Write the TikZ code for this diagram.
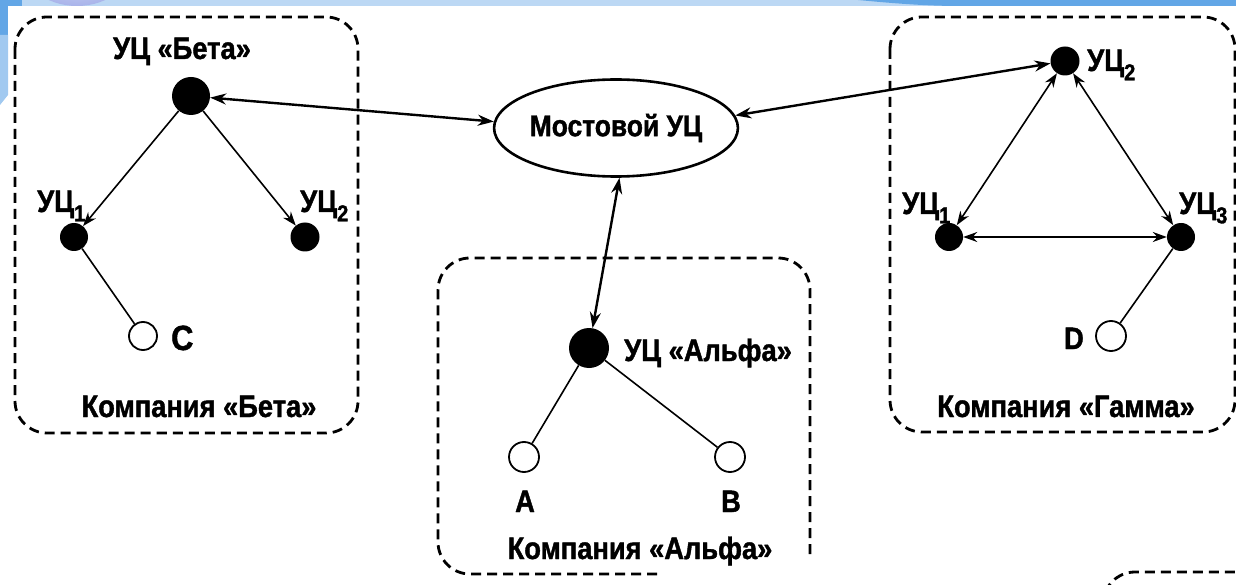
\documentclass[tikz,border=0pt]{standalone}
\usepackage{fontspec}
\newfontfamily\cndfont{Liberation Sans}[FakeStretch=0.88,FakeBold=1.3]
\usetikzlibrary{arrows.meta,shapes.geometric}
\definecolor{bandlight}{HTML}{BCD8F4}
\definecolor{banddark}{HTML}{62A6E6}
\definecolor{balllav}{HTML}{A9B4EA}
\newcommand{\lowsub}[1]{\raisebox{-0.3em}{\fontsize{23}{23}\selectfont#1}}

\begin{document}
\begin{tikzpicture}[x=1pt,y=-1pt,
  lbl/.style={font=\cndfont\bfseries\fontsize{31}{32}\selectfont, inner sep=0pt},
  ca/.style={circle, fill=black, inner sep=0pt, minimum size=#1},
  leaf/.style={circle, draw=black, line width=1.8pt, fill=white, inner sep=0pt, minimum size=28pt},
  hub/.style={ellipse, draw=black, line width=2.6pt, inner sep=0pt,
              minimum width=242pt, minimum height=97pt,
              font=\cndfont\bfseries\fontsize{30}{31}\selectfont},
  company/.style={draw=black, line width=2.8pt, dash pattern=on 10pt off 6pt, rounded corners=32pt},
  link/.style={line width=1.6pt, >={Stealth[length=14pt,width=10pt]}},
  bridgelink/.style={line width=2.4pt, >={Stealth[length=16pt,width=11pt]}},
  plain/.style={line width=1.6pt}
]
% page
\fill[white] (0,0) rectangle (1236,585);
\useasboundingbox (0,0) rectangle (1236,585);

% blue slide ornament along the top and left edges
\fill[bandlight] (0,0) rectangle (1236,6);
\fill[banddark] (858,0) .. controls (900,4) and (930,6) .. (960,6) -- (1236,6) -- (1236,0) -- cycle;
\fill[banddark] (0,0) rectangle (22,6);
\fill[banddark] (0,0) rectangle (8,35);
\fill[bandlight!70!banddark] (0,35) -- (8,35) -- (8,95) -- (0,105) -- cycle;
\begin{scope}
  \clip (0,0) rectangle (1236,6);
  \shade[inner color=white!70!balllav, outer color=balllav] (77,-40) ellipse [x radius=57, y radius=46];
\end{scope}

% company frames
\draw[company] (15,17) rectangle (358,433);
\draw[company] (657,574) -| (438,258) -| (810,556);
\draw[company] (890,17) rectangle (1235,432);
\draw[company] (1103,600) |- (1260,572);

% bridge CA
\node[hub] (bridge) at (616,128) {Мостовой УЦ};

% company Beta
\node[ca=38pt] (beta) at (191,96) {};
\node[lbl, anchor=base] (betaL) at (182,59) {УЦ «Бета»};
\node[ca=28pt] (b1) at (74,237) {};
\node[lbl, anchor=base west] (b1L) at (37,212) {УЦ\lowsub{1}};
\node[ca=29pt] (b2) at (305,237) {};
\node[lbl, anchor=base west] (b2L) at (300,212) {УЦ\lowsub{2}};
\node[leaf] (c) at (143,336) {};
\node[lbl, anchor=base west, font=\cndfont\bfseries\fontsize{35}{36}\selectfont] (cL) at (171,350) {C};
\node[lbl, anchor=base] (betaCo) at (199,417) {Компания «Бета»};

% company Alpha
\node[ca=40pt] (alpha) at (589,348) {};
\node[lbl, anchor=base west] (alphaL) at (624,361) {УЦ «Альфа»};
\node[leaf, minimum size=30pt] (a) at (524,457) {};
\node[leaf, minimum size=30pt] (b) at (730,457) {};
\node[lbl, anchor=base] (aL) at (525,512) {A};
\node[lbl, anchor=base] (bL) at (731,512) {B};
\node[lbl, anchor=base] (alphaCo) at (640,559) {Компания «Альфа»};

% company Gamma
\node[ca=29pt] (g2) at (1065,61) {};
\node[lbl, anchor=base west] (g2L) at (1087,71) {УЦ\lowsub{2}};
\node[ca=28pt] (g1) at (949,237) {};
\node[lbl, anchor=base west] (g1L) at (902,214) {УЦ\lowsub{1}};
\node[ca=28pt] (g3) at (1181,237) {};
\node[lbl, anchor=base west] (g3L) at (1179,214) {УЦ\lowsub{3}};
\node[leaf, minimum size=30pt] (d) at (1111,336) {};
\node[lbl, anchor=base east] (dL) at (1084,349) {D};
\node[lbl, anchor=base] (gammaCo) at (1066,417) {Компания «Гамма»};

% cross-certification with the bridge
\draw[bridgelink,<->] (beta) -- (bridge.177);
\draw[bridgelink,<->] (bridge.6) -- (g2);
\draw[bridgelink,<->] (bridge.-86) -- (alpha);

% hierarchy of Beta
\draw[link,->] (beta) -- (b1);
\draw[link,->] (beta) -- (b2);
\draw[plain] (b1) -- (c);

% hierarchy of Alpha
\draw[plain] (alpha) -- (a);
\draw[plain] (alpha) -- (b);

% mesh of Gamma
\draw[link,<->] (g2) -- (g1);
\draw[link,<->] (g2) -- (g3);
\draw[link,<->] (g1) -- (g3);
\draw[plain] (g3) -- (d);
\end{tikzpicture}
\end{document}
